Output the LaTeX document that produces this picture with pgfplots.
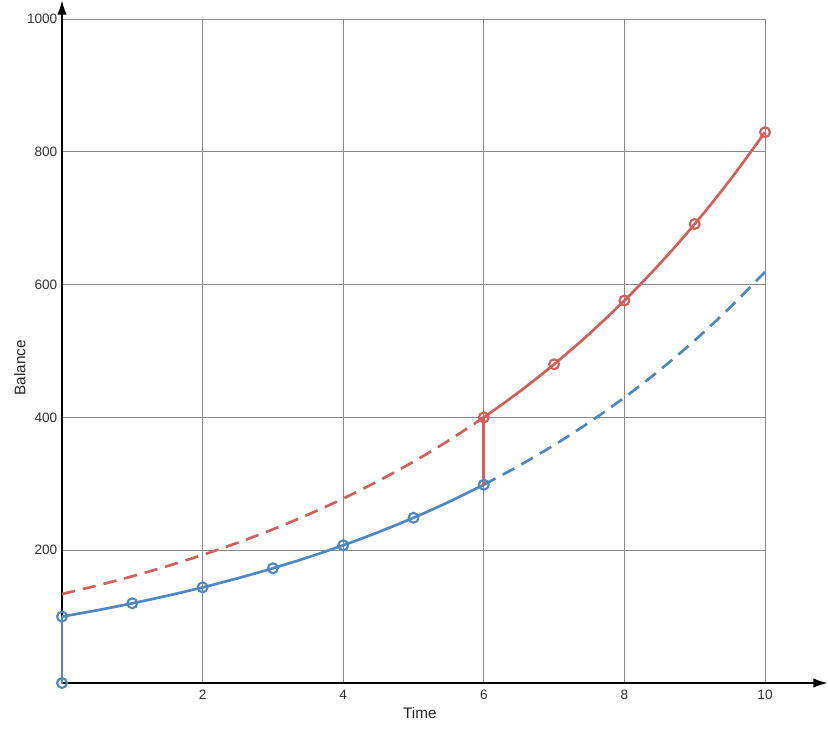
\documentclass[border=0pt]{standalone}
\usepackage{pgfplots}
\pgfplotsset{compat=1.18}
\usepackage{fontspec}
\setmainfont{Liberation Sans}
\usetikzlibrary{arrows.meta}
\definecolor{dblue}{HTML}{4F87C5}
\definecolor{dred}{HTML}{D2605A}
\definecolor{gridgray}{HTML}{8A8A8A}
\begin{document}
\begin{tikzpicture}
\begin{axis}[
  scale only axis,
  width=527.25pt, height=498pt,
  xmin=0, xmax=10, ymin=0, ymax=1000,
  axis lines=left,
  axis line style={draw=none},
  xtick={2,4,6,8,10},
  ytick={200,400,600,800,1000},
  major tick length=0pt,
  grid=major,
  major grid style={gridgray, line width=0.7pt},
  tick label style={font=\fontsize{10.2}{12}\selectfont, text=black!80},
  /pgf/number format/assume math mode=true,
  /pgf/number format/1000 sep={},
  xticklabel style={yshift=-2pt},
  clip=false,
]
% axes
\draw[black, line width=1.5pt, -{Latex[length=11pt,width=7pt]}] (rel axis cs:0,0) -- ([xshift=47.25pt]rel axis cs:1,0);
\draw[black, line width=1.5pt, -{Latex[length=11pt,width=7pt]}] (rel axis cs:0,0) -- ([yshift=14.25pt]rel axis cs:0,1);
% dashed continuations
\addplot[dred, line width=2pt, dash pattern=on 10pt off 6pt, smooth] coordinates {
(0,133.96) (0.5,146.74) (1,160.75) (1.5,176.09) (2,192.90) (2.5,211.31) (3,231.48)
(3.5,253.58) (4,277.78) (4.5,304.29) (5,333.33) (5.5,365.15) (6,400)};
\addplot[dblue, line width=2pt, dash pattern=on 10pt off 6pt, smooth] coordinates {
(6,298.60) (6.5,327.10) (7,358.32) (7.5,392.52) (8,429.98) (8.5,471.02) (9,515.98) (9.5,565.23) (10,619.17)};
% blue solid
\addplot[dblue, line width=2pt, line cap=round] coordinates {(0,0) (0,100)};
\addplot[dblue, line width=2pt, smooth] coordinates {
(0,100) (0.5,109.54) (1,120) (1.5,131.45) (2,144) (2.5,157.74) (3,172.8) (3.5,189.29)
(4,207.36) (4.5,227.15) (5,248.83) (5.5,272.58) (6,298.60)};
% red solid
\addplot[dred, line width=2pt, line cap=round] coordinates {(6,298.60) (6,400)};
\addplot[dred, line width=2pt, smooth] coordinates {
(6,400) (6.5,438.18) (7,480) (7.5,525.81) (8,576) (8.5,630.98) (9,691.2) (9.5,757.17) (10,829.44)};
% points
\addplot[only marks, mark=o, mark size=3.7pt, mark options={dblue, line width=1.6pt, fill=white}] coordinates {
(0,0) (0,100) (1,120) (2,144) (3,172.8) (4,207.36) (5,248.83) (6,298.60)};
\addplot[only marks, mark=o, mark size=3.7pt, mark options={dred, line width=1.6pt, fill=white}] coordinates {
(6,400) (7,480) (8,576) (9,691.2) (10,829.44)};
\node[font=\fontsize{11.5}{13}\selectfont, text=black!85] at ([yshift=-22.5pt]axis cs:5.09,0) {Time};
\node[font=\fontsize{11.5}{13}\selectfont, text=black!85, rotate=90] at ([xshift=-31.5pt]axis cs:0,475) {Balance};
\coordinate (bl) at (rel axis cs:0,0);
\coordinate (tr) at (rel axis cs:1,1);
\end{axis}
\pgfresetboundingbox
\path[use as bounding box] ([shift={(-46.5pt,-46.5pt)}]bl) rectangle ([shift={(47.25pt,14.25pt)}]tr);
\end{tikzpicture}
\end{document}
